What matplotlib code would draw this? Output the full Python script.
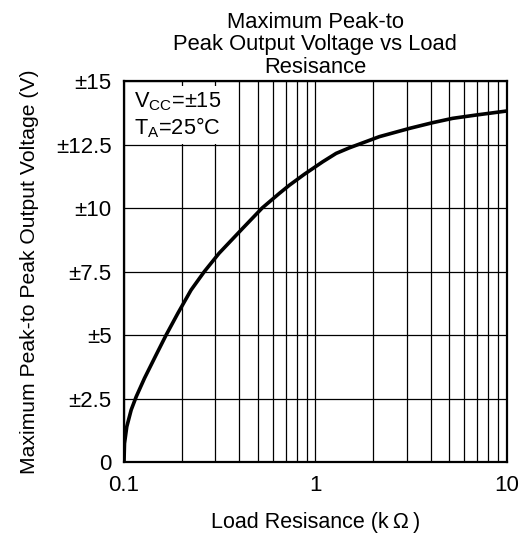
import numpy as np
import matplotlib
matplotlib.use('Agg')
import matplotlib.pyplot as plt
from matplotlib.ticker import FixedLocator, LogLocator, NullFormatter

plt.rcParams['font.family'] = ['Liberation Sans', 'DejaVu Sans']
plt.rcParams['mathtext.fontset'] = 'custom'
plt.rcParams['mathtext.rm'] = 'Liberation Sans'

# Curve (load resistance in kOhm, peak voltage in V)
load_kohm = [0.1, 0.1006, 0.1034, 0.109, 0.1158, 0.128, 0.147, 0.166, 0.191,
             0.224, 0.263, 0.314, 0.417, 0.527, 0.649, 0.732, 0.876, 1.092,
             1.283, 1.505, 2.16, 3.12, 4.1, 5.21, 6.9, 10.0]
vout = [0.0, 0.73, 1.39, 2.05, 2.57, 3.3, 4.21, 5.0, 5.85,
        6.77, 7.5, 8.22, 9.2, 10.0, 10.58, 10.9, 11.33, 11.82,
        12.15, 12.37, 12.81, 13.14, 13.36, 13.53, 13.66, 13.82]

y_ticks = [0, 2.5, 5, 7.5, 10, 12.5, 15]
y_labels = ['0', '±2.5', '±5', '±7.5', '±10', '±12.5', '±15']
x_ticks = [0.1, 1, 10]
x_labels = ['0.1', '1', '10']

fig = plt.figure(figsize=(5.29, 5.33), dpi=100)
ax = fig.add_axes([0.2344, 0.1332, 0.7236, 0.7148])

ax.plot(load_kohm, vout, color='black', lw=2.6, zorder=3,
        solid_capstyle='round', solid_joinstyle='round')

ax.set_xscale('log')
ax.set_xlim(0.1, 10)
ax.set_ylim(0, 15)
ax.xaxis.set_major_locator(FixedLocator(x_ticks))
ax.set_xticklabels(x_labels)
ax.xaxis.set_minor_locator(LogLocator(base=10, subs=np.arange(2, 10)))
ax.xaxis.set_minor_formatter(NullFormatter())
ax.set_yticks(y_ticks)
ax.set_yticklabels(y_labels)

ax.grid(True, which='both', axis='x', color='black', lw=0.9)
ax.grid(True, which='major', axis='y', color='black', lw=0.9)
ax.tick_params(which='both', length=0, labelsize=16, pad=9)
for s in ax.spines.values():
    s.set_linewidth(1.6)

ax.text(0.025, 0.975, 'V$_{\\rm CC}$=±15\nT$_{\\rm A}$=25°C', transform=ax.transAxes,
        ha='left', va='top', fontsize=15.7, linespacing=1.1, zorder=4,
        bbox=dict(facecolor='white', edgecolor='none', pad=3))

ax.set_title('Maximum Peak-to\nPeak Output Voltage vs Load\nResisance',
             fontsize=15.8, linespacing=1.08, pad=6)
ax.set_xlabel('Load Resisance (k\u2009Ω\u2009)', fontsize=15.5, labelpad=12)
ax.set_ylabel('Maximum Peak-to Peak Output Voltage (V)', fontsize=15.2, labelpad=12)

fig.savefig('out.png', dpi=100)
